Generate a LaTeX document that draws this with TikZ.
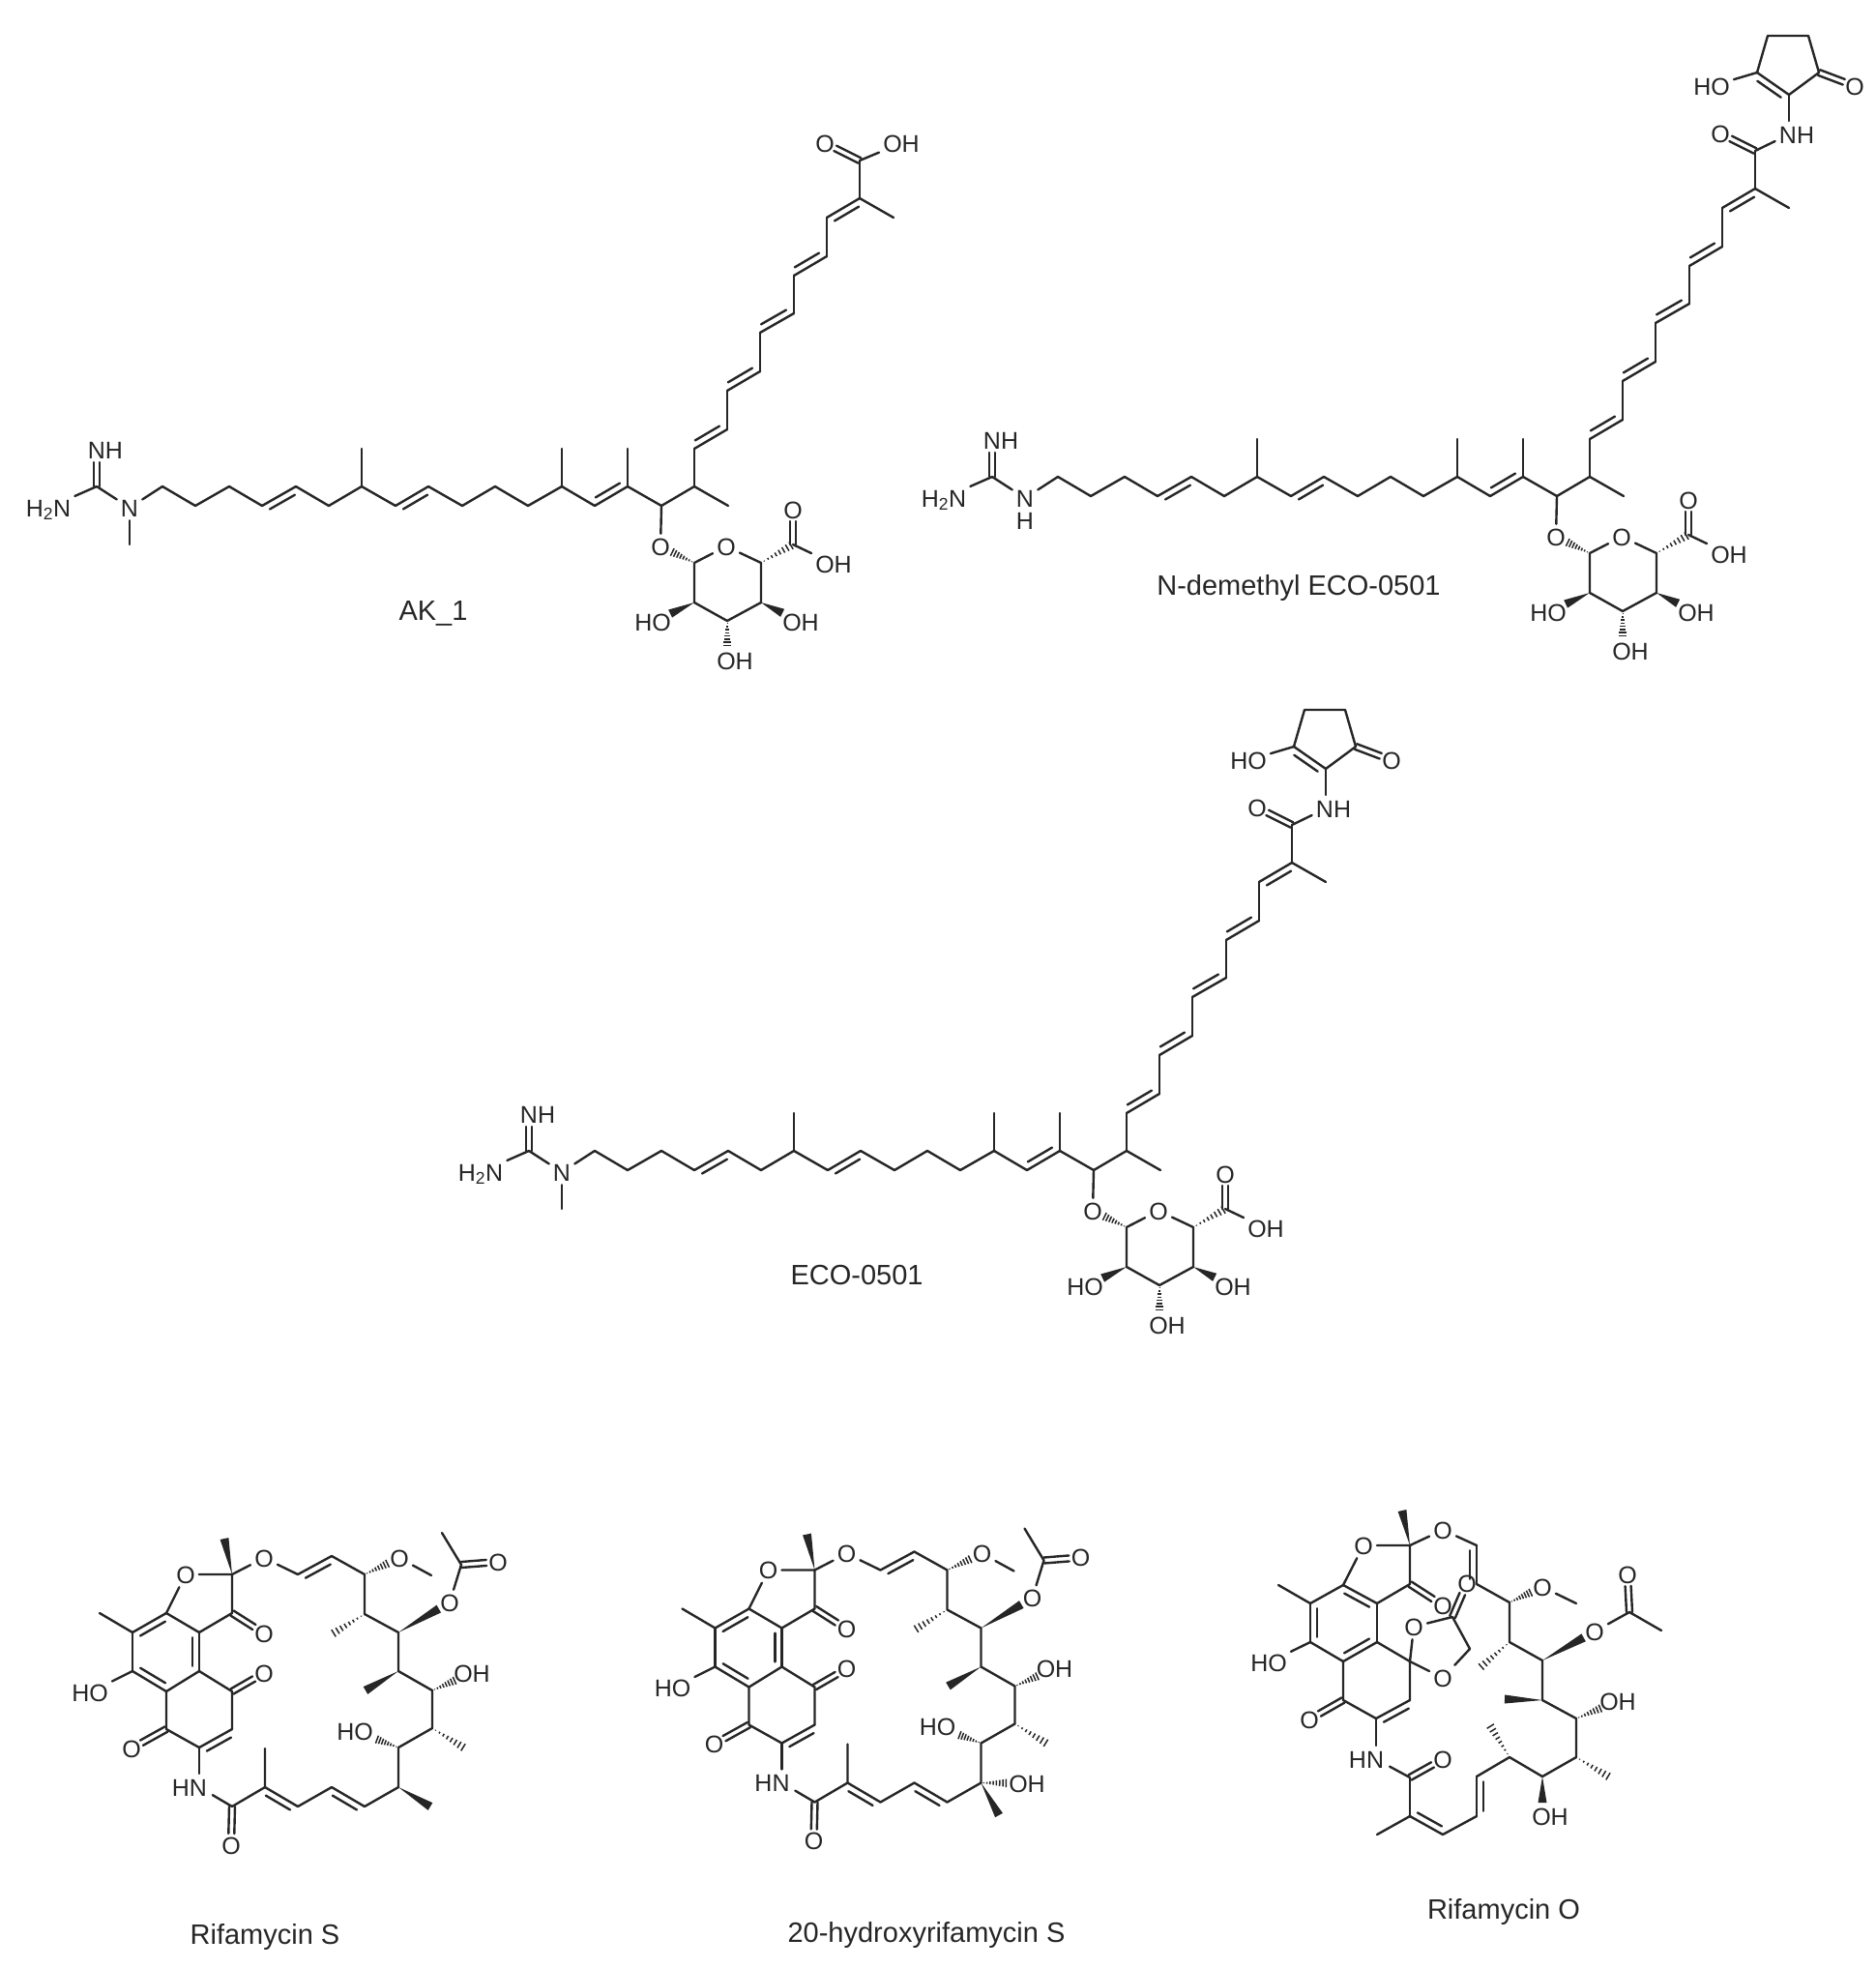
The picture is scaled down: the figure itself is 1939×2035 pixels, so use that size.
\documentclass[tikz,border=0pt]{standalone}
\usepackage{fontspec}
\setmainfont{Liberation Sans}
\usetikzlibrary{calc}
\definecolor{ink}{gray}{0.15}
\tikzset{
  atom/.style={inner sep=3pt, text height=18pt, text depth=0pt, font=\fontsize{25}{30}\selectfont},
  molname/.style={font=\fontsize{29}{35}\selectfont}
}
\newcommand{\dbl}[2]{\draw (#1) -- (#2); \draw ($(#1)!.13!(#2)!7pt!90:(#2)$) -- ($(#2)!.13!(#1)!7pt!-90:(#1)$);}
\newcommand{\dblc}[3]{\draw ($(#1)!3pt!90:(#2)$) -- ($(#2)!#3!(#1)!3pt!-90:(#1)$); \draw ($(#1)!3pt!-90:(#2)$) -- ($(#2)!#3!(#1)!3pt!90:(#1)$);}
\newcommand{\wdg}[3]{\fill (#1) -- ($(#2)!#3!(#1)!4.5pt!90:(#1)$) -- ($(#2)!#3!(#1)!4.5pt!-90:(#1)$) -- cycle;}
\newcommand{\hsh}[3]{\coordinate (tip) at ($(#2)!#3!(#1)$);
  \foreach \t in {.1,.22,.34,.46,.58,.7,.82,.94}
    \draw[line width=1.5pt, line cap=butt] ($(#1)!\t!(tip)!\t*4.5pt!90:(tip)$) -- ($(#1)!\t!(tip)!\t*4.5pt!-90:(tip)$);}
\newcommand{\ecobody}{
  \coordinate (gc) at (100,503);
  \coordinate (gn) at (100,465);
  \node[atom] (nh) at (109,465) {NH};
  \node[atom] (am) at (50,525) {H\textsubscript{2}N};
  \node[atom] (nn) at (134,525) {N};
  \coordinate (p1) at (168,503); \coordinate (p2) at (202,523); \coordinate (p3) at (237,503);
  \coordinate (p4) at (271,523); \coordinate (p5) at (306,503); \coordinate (p6) at (340,523);
  \coordinate (p7) at (374,503); \coordinate (p7m) at (374,464); \coordinate (p8) at (409,523);
  \coordinate (p9) at (443,503); \coordinate (p10) at (478,523); \coordinate (p11) at (512,503);
  \coordinate (p12) at (546,523); \coordinate (p13) at (581,503); \coordinate (p13m) at (581,464);
  \coordinate (p14) at (615,523); \coordinate (p15) at (649,503); \coordinate (p15m) at (649,464);
  \coordinate (p16) at (684,523); \coordinate (p17) at (718,503); \coordinate (p17m) at (753,523);
  \coordinate (u1) at (718,464); \coordinate (u2) at (752,444); \coordinate (u3) at (752,404);
  \coordinate (u4) at (786,384); \coordinate (u5) at (786,344); \coordinate (u6) at (821,324);
  \coordinate (u7) at (821,285); \coordinate (u8) at (855,265); \coordinate (u9) at (855,225);
  \coordinate (u10) at (889,205); \coordinate (u10m) at (924,225); \coordinate (cc) at (889,166);
  \node[atom] (co) at (853,148) {O};
  \draw (gc) -- (nn);
  \draw (gc) -- (am);
  \dblc{gc}{gn}{13pt}
  \draw (nn) -- (p1) -- (p2) -- (p3) -- (p4);
  \dbl{p5}{p4}
  \draw (p5) -- (p6) -- (p7) -- (p8);
  \draw (p7) -- (p7m);
  \dbl{p9}{p8}
  \draw (p9) -- (p10) -- (p11) -- (p12) -- (p13);
  \draw (p13) -- (p13m);
  \dbl{p14}{p15}
  \draw (p13) -- (p14);
  \draw (p15) -- (p15m);
  \draw (p15) -- (p16) -- (p17) -- (p17m);
  \draw (p17) -- (u1);
  \dbl{u1}{u2}
  \draw (u2) -- (u3);
  \dbl{u3}{u4}
  \draw (u4) -- (u5);
  \dbl{u5}{u6}
  \draw (u6) -- (u7);
  \dbl{u7}{u8}
  \draw (u8) -- (u9);
  \dbl{u10}{u9}
  \draw (u10) -- (u10m);
  \draw (u10) -- (cc);
  \dblc{cc}{co}{12pt}
  \node[atom] (go) at (683,565) {O};
  \node[atom] (so) at (751,565) {O};
  \coordinate (s1) at (718,582); \coordinate (s5) at (787,582); \coordinate (s4) at (787,623);
  \coordinate (s3) at (752,642); \coordinate (s2) at (718,623);
  \coordinate (sc) at (820,563); \coordinate (oh3) at (752,683);
  \node[atom] (sco) at (820,527) {O};
  \node[atom] (sch) at (862,583) {OH};
  \node[atom] (oh4) at (828,643) {OH};
  \node[atom] (oh2) at (675,643) {HO};
  \node[atom] (oh3l) at (760,683) {OH};
  \draw (p16) -- (go);
  \hsh{s1}{go}{12pt}
  \draw (s1) -- (so) -- (s5) -- (s4) -- (s3) -- (s2) -- (s1);
  \hsh{s5}{sc}{0pt}
  \dblc{sc}{sco}{12pt}
  \draw (sc) -- (sch);
  \wdg{s4}{oh4}{21pt}
  \wdg{s2}{oh2}{20pt}
  \hsh{s3}{oh3}{14pt}
}
\newcommand{\cyclohead}{
  \node[atom] (ami) at (932,149) {NH};
  \coordinate (amn) at (924,149);
  \coordinate (k1) at (924,108); \coordinate (k2) at (891,85); \coordinate (k3) at (902,47);
  \coordinate (k4) at (944,47); \coordinate (k5) at (955,85);
  \node[atom] (kho) at (844,99) {HO};
  \node[atom] (ko) at (992,99) {O};
  \draw[shorten >=16pt] (cc) -- (amn);
  \draw[shorten >=14pt] (k1) -- (amn);
  \dbl{k1}{k2}
  \draw (k2) -- (k3) -- (k4) -- (k5) -- (k1);
  \draw (k2) -- (kho);
  \dblc{k5}{ko}{12pt}
}
\newcommand{\rifacore}{
  \coordinate (a1) at (103,1668); \coordinate (a2) at (137,1688); \coordinate (a3) at (172,1668);
  \coordinate (a4) at (206,1688); \coordinate (a5) at (206,1728); \coordinate (a6) at (172,1749);
  \coordinate (a7) at (137,1728); \coordinate (a8) at (172,1788); \coordinate (a9) at (206,1807);
  \coordinate (a10) at (240,1788); \coordinate (a11) at (240,1749);
  \coordinate (b1) at (240,1628); \coordinate (b1m) at (232,1591); \coordinate (b2) at (240,1668);
  \coordinate (rn) at (206,1848); \coordinate (d1) at (240,1868); \coordinate (d2) at (274,1848);
  \coordinate (d2m) at (274,1808); \coordinate (d3) at (308,1868); \coordinate (d4) at (343,1848);
  \coordinate (d5) at (377,1868); \coordinate (d6) at (412,1848); \coordinate (t4) at (412,1807);
  \coordinate (t3) at (447,1787); \coordinate (t3m) at (481,1808); \coordinate (t2) at (447,1748);
  \coordinate (t1) at (412,1728); \coordinate (t1m) at (378,1748); \coordinate (v4) at (412,1688);
  \coordinate (v3) at (377,1669); \coordinate (v3m) at (343,1690); \coordinate (v2) at (377,1628);
  \coordinate (v1) at (343,1609); \coordinate (v0) at (308,1628); \coordinate (w1) at (446,1629);
  \coordinate (x1) at (477,1618); \coordinate (x1m) at (457,1585);
  \node[atom] (rho) at (93,1750) {HO};
  \node[atom] (ro1) at (136,1808) {O};
  \node[atom] (ro2) at (273,1730) {O};
  \node[atom] (ro3) at (273,1689) {O};
  \node[atom] (rfu) at (192,1628) {O};
  \node[atom] (rvi) at (273,1611) {O};
  \node[atom] (rhn) at (196,1848) {HN};
  \node[atom] (rco) at (239,1908) {O};
  \node[atom] (rme) at (413,1611) {O};
  \node[atom] (rac) at (465,1657) {O};
  \node[atom] (rxo) at (515,1615) {O};
  \node[atom] (rh1) at (488,1730) {OH};
  \node[atom] (rh2) at (367,1790) {HO};
  \draw (a1) -- (a2);
  \dbl{a3}{a2}
  \draw (a3) -- (a4);
  \dbl{a5}{a4}
  \draw (a5) -- (a6);
  \dbl{a7}{a6}
  \draw (a7) -- (a2);
  \draw (a7) -- (rho);
  \draw (a6) -- (a8) -- (a9);
  \dbl{a10}{a9}
  \draw (a10) -- (a11) -- (a5);
  \dblc{a8}{ro1}{12pt}
  \dblc{a11}{ro2}{12pt}
  \draw (a3) -- (rfu) -- (b1) -- (b2) -- (a4);
  \dblc{b2}{ro3}{12pt}
  \wdg{b1}{b1m}{0pt}
  \draw (b1) -- (rvi) -- (v0);
  \dbl{v1}{v0}
  \draw (v1) -- (v2) -- (v3) -- (v4) -- (t1) -- (t2) -- (t3) -- (t4) -- (d6);
  \hsh{v2}{rme}{12pt}
  \draw (rme) -- (w1);
  \hsh{v3}{v3m}{0pt}
  \wdg{v4}{rac}{13pt}
  \wdg{t1}{t1m}{0pt}
  \hsh{t2}{rh1}{18pt}
  \hsh{t3}{t3m}{0pt}
  \hsh{t4}{rh2}{23pt}
  \draw (rac) -- (x1) -- (x1m);
  \dblc{x1}{rxo}{12pt}
  \draw[shorten >=14pt] (a9) -- (rn);
  \draw[shorten >=16pt] (d1) -- (rn);
  \dblc{d1}{rco}{12pt}
  \draw (d1) -- (d2) -- (d2m);
  \dbl{d3}{d2}
  \draw (d3) -- (d4);
  \dbl{d5}{d4}
  \draw (d5) -- (d6);
}
\begin{document}
\begin{tikzpicture}[x=1pt, y=-1pt, color=ink, line width=2.4pt, line cap=round, line join=round]
\useasboundingbox (0,0) rectangle (1939,2035);
\begin{scope}
\ecobody
\coordinate (nm) at (134,563);
\draw (nn) -- (nm);
\node[atom] (coh) at (932,148) {OH};
\draw (cc) -- (coh);
\node[molname] (ak) at (448,634) {AK\_1};
\end{scope}
\begin{scope}[shift={(926,-10)}]
\ecobody
\node[atom] (nhh) at (134,548) {H};
\cyclohead
\end{scope}
\node[molname] (demethyl) at (1343,608) {N-demethyl ECO-0501};
\begin{scope}[shift={(447,687)}]
\ecobody
\coordinate (nm) at (134,563);
\draw (nn) -- (nm);
\cyclohead
\end{scope}
\node[molname] (eco) at (886,1318) {ECO-0501};
\begin{scope}
\rifacore
\coordinate (d6m) at (445,1868);
\wdg{d6}{d6m}{0pt}
\end{scope}
\node[molname] (rifs) at (274,2003) {Rifamycin S};
\begin{scope}[shift={(602.5,-4.5)}]
\rifacore
\coordinate (d6m) at (430.5,1881.5);
\wdg{d6}{d6m}{0pt}
\node[atom] (d6o) at (459.5,1848.5) {OH};
\hsh{d6}{d6o}{20pt}
\end{scope}
\node[molname] (hydroxy) at (958,2001) {20-hydroxyrifamycin S};
\coordinate (c1) at (1322,1639); \coordinate (c2) at (1355,1658); \coordinate (c3) at (1389,1639);
\coordinate (c4) at (1424,1658); \coordinate (c5) at (1424,1698); \coordinate (c6) at (1389,1718);
\coordinate (c7) at (1355,1698); \coordinate (c8) at (1389,1758); \coordinate (c9) at (1423,1777);
\coordinate (c10) at (1458,1758); \coordinate (c11) at (1458,1718);
\coordinate (f1) at (1458,1598); \coordinate (f1m) at (1450,1562); \coordinate (f2) at (1458,1638);
\coordinate (ln) at (1423,1819); \coordinate (l1) at (1458,1838); \coordinate (l2) at (1458,1878);
\coordinate (l2m) at (1424,1897); \coordinate (l3) at (1492,1897); \coordinate (l4) at (1527,1878);
\coordinate (l5) at (1527,1837); \coordinate (l6) at (1561,1817); \coordinate (l6m) at (1540,1783);
\coordinate (l7) at (1595,1837); \coordinate (l7o) at (1595,1878); \coordinate (l8) at (1630,1817);
\coordinate (l8m) at (1665,1838); \coordinate (l9) at (1630,1777); \coordinate (l10) at (1595,1758);
\coordinate (l10m) at (1556,1757); \coordinate (l11) at (1595,1717); \coordinate (l12) at (1561,1698);
\coordinate (l12m) at (1530,1725); \coordinate (l13) at (1561,1657); \coordinate (l14) at (1527,1638);
\coordinate (l15) at (1527,1598); \coordinate (lme) at (1630,1658); \coordinate (g1) at (1502,1672);
\coordinate (g2) at (1520,1705); \coordinate (y1) at (1685,1667); \coordinate (y1m) at (1718,1686);
\node[atom] (oho) at (1312,1719) {HO};
\node[atom] (oo1) at (1354,1778) {O};
\node[atom] (ofu) at (1410,1598) {O};
\node[atom] (ovi) at (1492,1582) {O};
\node[atom] (oo2) at (1492,1660) {O};
\node[atom] (osp) at (1462,1682) {O};
\node[atom] (osq) at (1492,1735) {O};
\node[atom] (olo) at (1517,1637) {O};
\node[atom] (ohn) at (1413,1819) {HN};
\node[atom] (oam) at (1492,1819) {O};
\node[atom] (ome) at (1595,1641) {O};
\node[atom] (oac) at (1649,1687) {O};
\node[atom] (oxo) at (1683,1628) {O};
\node[atom] (oh1) at (1673,1759) {OH};
\node[atom] (oh5) at (1603,1878) {OH};
\draw (c1) -- (c2) -- (c3);
\dbl{c2}{c7}
\dbl{c4}{c3}
\draw (c4) -- (c5);
\dbl{c6}{c5}
\draw (c6) -- (c7);
\draw (c7) -- (oho);
\draw (c6) -- (c8) -- (c9);
\dbl{c10}{c9}
\draw (c10) -- (c11) -- (c5);
\dblc{c8}{oo1}{12pt}
\draw (c3) -- (ofu) -- (f1) -- (f2) -- (c4);
\dblc{f2}{oo2}{12pt}
\wdg{f1}{f1m}{0pt}
\draw (f1) -- (ovi) -- (l15);
\dbl{l14}{l15}
\draw (l14) -- (l13) -- (l12) -- (l11) -- (l10) -- (l9) -- (l8) -- (l7) -- (l6) -- (l5);
\hsh{l13}{ome}{12pt}
\draw (ome) -- (lme);
\hsh{l12}{l12m}{0pt}
\wdg{l11}{oac}{13pt}
\wdg{l10}{l10m}{0pt}
\hsh{l9}{oh1}{18pt}
\hsh{l8}{l8m}{0pt}
\wdg{l7}{l7o}{14pt}
\hsh{l6}{l6m}{0pt}
\dbl{l5}{l4}
\draw (l4) -- (l3);
\dbl{l2}{l3}
\draw (l2) -- (l2m);
\draw (l2) -- (l1);
\draw[shorten >=14pt] (c9) -- (ln);
\draw[shorten >=16pt] (l1) -- (ln);
\dblc{l1}{oam}{12pt}
\draw (c11) -- (osp) -- (g1) -- (g2) -- (osq) -- (c11);
\dblc{g1}{olo}{12pt}
\draw (oac) -- (y1) -- (y1m);
\dblc{y1}{oxo}{12pt}
\node[molname] (rifo) at (1555,1977) {Rifamycin O};
\end{tikzpicture}
\end{document}
